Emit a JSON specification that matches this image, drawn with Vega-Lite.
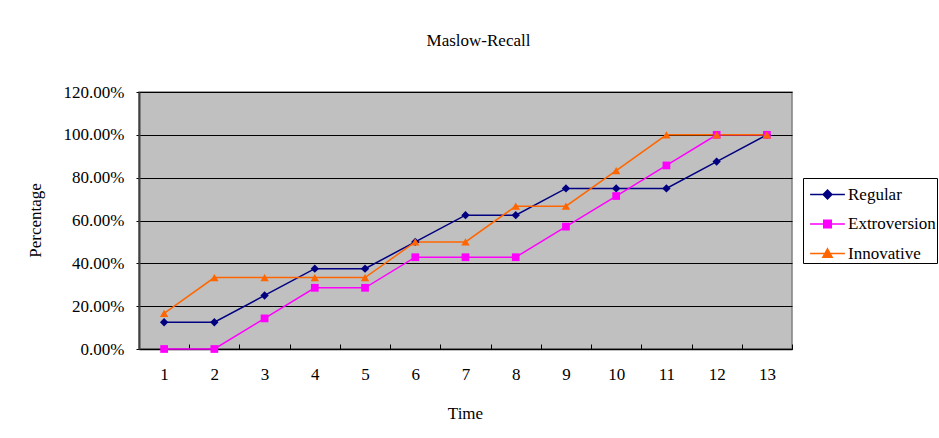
{
  "$schema": "https://vega.github.io/schema/vega-lite/v6.json",
  "width": 653,
  "height": 257,
  "autosize": "none",
  "padding": {"left": 139, "top": 92, "right": 147, "bottom": 89},
  "background": "white",
  "title": {
    "text": "Maslow-Recall",
    "font": "Liberation Serif",
    "fontSize": 17,
    "fontWeight": "normal",
    "color": "#000000",
    "anchor": "middle",
    "dx": 13,
    "offset": 33
  },
  "data": {
    "values": [
      {"time": 1, "series": "Regular", "value": 0.125},
      {"time": 2, "series": "Regular", "value": 0.125},
      {"time": 3, "series": "Regular", "value": 0.25},
      {"time": 4, "series": "Regular", "value": 0.375},
      {"time": 5, "series": "Regular", "value": 0.375},
      {"time": 6, "series": "Regular", "value": 0.5},
      {"time": 7, "series": "Regular", "value": 0.625},
      {"time": 8, "series": "Regular", "value": 0.625},
      {"time": 9, "series": "Regular", "value": 0.75},
      {"time": 10, "series": "Regular", "value": 0.75},
      {"time": 11, "series": "Regular", "value": 0.75},
      {"time": 12, "series": "Regular", "value": 0.875},
      {"time": 13, "series": "Regular", "value": 1.0},
      {"time": 1, "series": "Extroversion", "value": 0.0},
      {"time": 2, "series": "Extroversion", "value": 0.0},
      {"time": 3, "series": "Extroversion", "value": 0.1429},
      {"time": 4, "series": "Extroversion", "value": 0.2857},
      {"time": 5, "series": "Extroversion", "value": 0.2857},
      {"time": 6, "series": "Extroversion", "value": 0.4286},
      {"time": 7, "series": "Extroversion", "value": 0.4286},
      {"time": 8, "series": "Extroversion", "value": 0.4286},
      {"time": 9, "series": "Extroversion", "value": 0.5714},
      {"time": 10, "series": "Extroversion", "value": 0.7143},
      {"time": 11, "series": "Extroversion", "value": 0.8571},
      {"time": 12, "series": "Extroversion", "value": 1.0},
      {"time": 13, "series": "Extroversion", "value": 1.0},
      {"time": 1, "series": "Innovative", "value": 0.1667},
      {"time": 2, "series": "Innovative", "value": 0.3333},
      {"time": 3, "series": "Innovative", "value": 0.3333},
      {"time": 4, "series": "Innovative", "value": 0.3333},
      {"time": 5, "series": "Innovative", "value": 0.3333},
      {"time": 6, "series": "Innovative", "value": 0.5},
      {"time": 7, "series": "Innovative", "value": 0.5},
      {"time": 8, "series": "Innovative", "value": 0.6667},
      {"time": 9, "series": "Innovative", "value": 0.6667},
      {"time": 10, "series": "Innovative", "value": 0.8333},
      {"time": 11, "series": "Innovative", "value": 1.0},
      {"time": 12, "series": "Innovative", "value": 1.0},
      {"time": 13, "series": "Innovative", "value": 1.0}
    ]
  },
  "encoding": {
    "x": {
      "field": "time",
      "type": "ordinal",
      "scale": {"type": "band", "paddingInner": 0, "paddingOuter": 0},
      "axis": {
        "title": "Time",
        "labelAngle": 0,
        "tickBand": "extent",
        "tickSize": -5,
        "tickColor": "#000000",
        "domainColor": "#000000",
        "domainWidth": 1.5,
        "labelPadding": 22,
        "labelFont": "Liberation Serif",
        "labelFontSize": 17,
        "labelColor": "#000000",
        "titleFont": "Liberation Serif",
        "titleFontSize": 17,
        "titleFontWeight": "normal",
        "titleColor": "#000000",
        "titleY": 64,
        "titleBaseline": "middle",
        "titleX": 326,
        "grid": false
      }
    },
    "y": {
      "field": "value",
      "type": "quantitative",
      "scale": {"domain": [0, 1.2], "nice": false},
      "axis": {
        "title": "Percentage",
        "values": [0, 0.2, 0.4, 0.6, 0.8, 1.0, 1.2],
        "format": ".2%",
        "grid": true,
        "gridColor": "#000000",
        "gridWidth": 1,
        "gridOpacity": 1,
        "tickSize": 3,
        "tickColor": "#000000",
        "domainColor": "#404040",
        "domainWidth": 2,
        "labelPadding": 12,
        "labelFont": "Liberation Serif",
        "labelFontSize": 17,
        "labelColor": "#000000",
        "titleFont": "Liberation Serif",
        "titleFontSize": 17,
        "titleFontWeight": "normal",
        "titleColor": "#000000",
        "titleX": -104,
        "titleY": 128,
        "titleAngle": -90,
        "titleBaseline": "middle",
        "titleAlign": "center"
      }
    },
    "color": {
      "field": "series",
      "type": "nominal",
      "scale": {
        "domain": ["Regular", "Extroversion", "Innovative"],
        "range": ["#000080", "#FF00FF", "#FF6600"]
      },
      "legend": {
        "title": null,
        "orient": "none",
        "legendX": 664,
        "legendY": 86,
        "strokeColor": "#000000",
        "fillColor": "white",
        "padding": 1,
        "rowPadding": 5.5,
        "labelFont": "Liberation Serif",
        "labelFontSize": 17,
        "labelColor": "#000000",
        "labelOffset": 5,
        "symbolOffset": 8,
        "symbolSize": 841,
        "symbolStrokeWidth": 1.5,
        "encode": {
          "symbols": {
            "update": {
              "shape": {"signal": "datum.value === 'Regular' ? 'M-1.2,0H1.2M0,-0.3L0.3,0L0,0.3L-0.3,0Z' : datum.value === 'Extroversion' ? 'M-1.2,0H1.2M-0.26,-0.26H0.26V0.26H-0.26Z' : 'M-1.2,0H1.2M0,-0.32L0.32,0.26H-0.32Z'"},
              "fill": {"signal": "datum.value === 'Regular' ? '#000080' : datum.value === 'Extroversion' ? '#FF00FF' : '#FF6600'"},
              "stroke": {"signal": "datum.value === 'Regular' ? '#000080' : datum.value === 'Extroversion' ? '#FF00FF' : '#FF6600'"},
              "opacity": {"value": 1}
            }
          }
        }
      }
    }
  },
  "layer": [
    {
      "mark": {"type": "line", "strokeWidth": 1.5},
      "encoding": {}
    },
    {
      "transform": [{"filter": "datum.series === 'Regular'"}],
      "mark": {"type": "point", "filled": true, "size": 70, "opacity": 1, "shape": "diamond"},
      "encoding": {}
    },
    {
      "transform": [{"filter": "datum.series === 'Extroversion'"}],
      "mark": {"type": "point", "filled": true, "size": 60, "opacity": 1, "shape": "square"},
      "encoding": {}
    },
    {
      "transform": [{"filter": "datum.series === 'Innovative'"}],
      "mark": {"type": "point", "filled": true, "size": 70, "opacity": 1, "shape": "triangle-up"},
      "encoding": {}
    }
  ],
  "config": {
    "view": {"fill": "#C0C0C0", "stroke": "#808080", "strokeWidth": 1.5}
  }
}
